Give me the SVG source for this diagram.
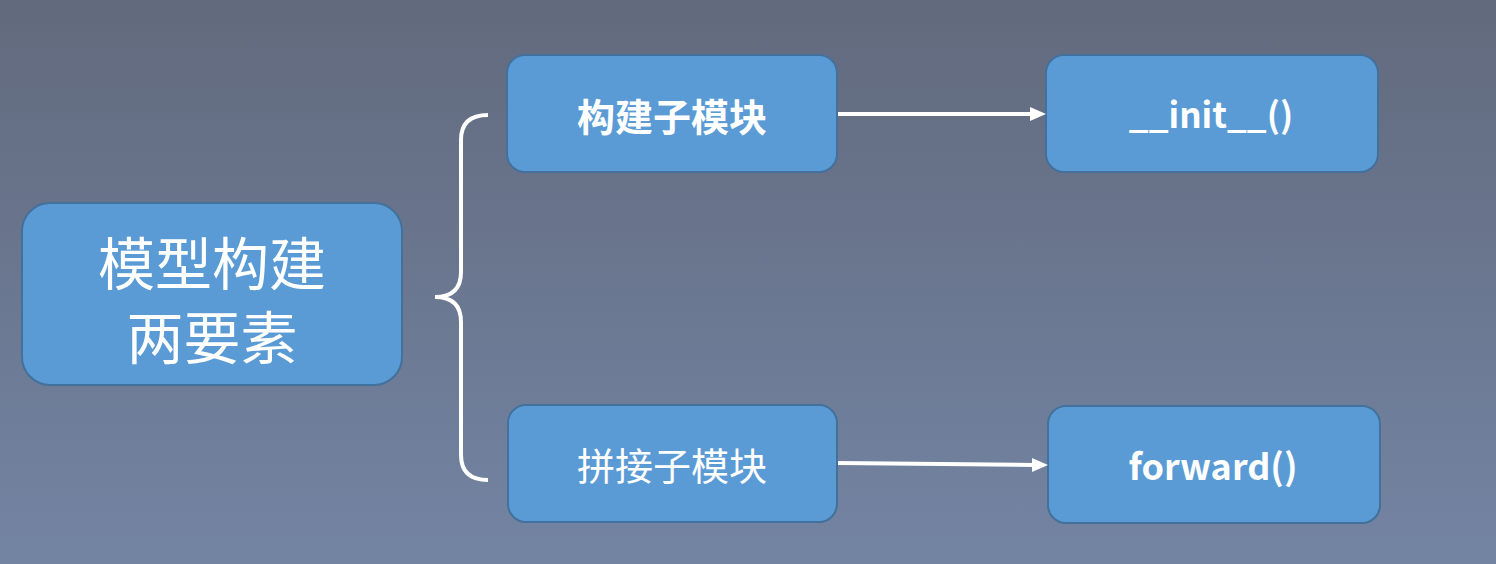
<svg xmlns="http://www.w3.org/2000/svg" width="1496" height="564" viewBox="0 0 1496 564">
<defs>
<linearGradient id="bg" x1="0" y1="0" x2="0" y2="1"><stop offset="0" stop-color="#626a7d"/><stop offset="1" stop-color="#7384a3"/></linearGradient>
<style>
.box{fill:#5b9bd5;stroke:#41719c;stroke-width:2}
.t{fill:#fff;font-family:"Noto Sans CJK SC","Open Sans",sans-serif;text-anchor:middle;dominant-baseline:central}
.c{stroke:#fff;stroke-width:4;fill:none}
.ah{fill:#fff}
</style>
</defs>
<rect width="1496" height="564" fill="url(#bg)"/>
<g id="main"><rect class="box" x="22" y="203" width="380" height="182" rx="28"/><text class="t" x="212" y="260" font-size="57">模型构建</text><text class="t" x="212" y="334" font-size="57">两要素</text></g>
<g id="build"><rect class="box" x="507" y="55" width="330" height="117" rx="18"/><text class="t" x="672" y="114" font-size="38" font-weight="bold">构建子模块</text></g>
<g id="concat"><rect class="box" x="508" y="405" width="329" height="117" rx="18"/><text class="t" x="672" y="463" font-size="38">拼接子模块</text></g>
<g id="init"><rect class="box" x="1046" y="55" width="332" height="117" rx="18"/><text class="t" x="1211" y="112" font-size="35" font-weight="bold" font-family="Open Sans,sans-serif">__init__()</text></g>
<g id="forward"><rect class="box" x="1048" y="406" width="332" height="117" rx="18"/><text class="t" x="1213" y="464" font-size="36" font-weight="bold" font-family="Open Sans,sans-serif">forward()</text></g>
<g id="connectors">
<path class="c" d="M488,115 Q461,115 461,140 L461,272 Q461,297 435,297 Q461,297 461,322 L461,455 Q461,480 488,480" stroke-width="3"/>
<line class="c" x1="838" y1="114" x2="1032" y2="114"/>
<polygon class="ah" points="1046,114 1030,107 1030,121"/>
<line class="c" x1="838" y1="463" x2="1034" y2="465"/>
<polygon class="ah" points="1048,465 1032,458 1032,472"/>
</g>
</svg>
